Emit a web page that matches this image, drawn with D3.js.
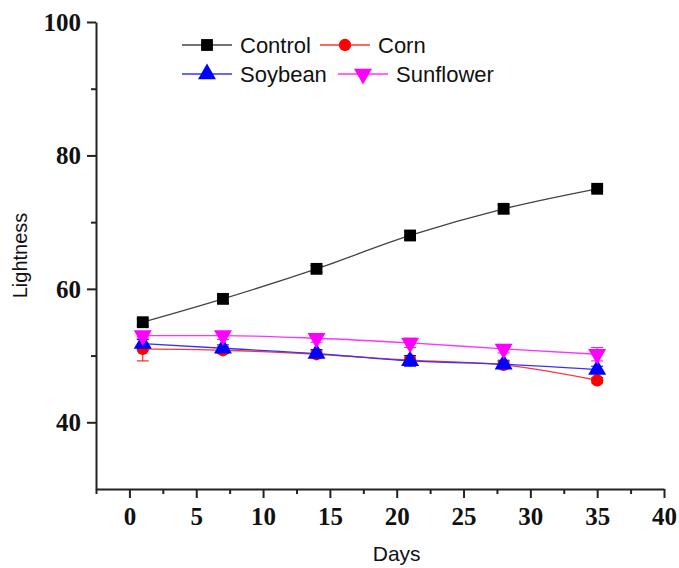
<!DOCTYPE html>
<html>
<head>
<meta charset="utf-8">
<script src="https://cdn.jsdelivr.net/npm/d3@7"></script>
<style>
  body { margin: 0; background: #fff; }
  svg { display: block; }
</style>
</head>
<body>
<div id="chart"></div>
<script>

//************************  data *************************

var days = [1, 7, 14, 21, 28, 35];
var seriesNames = ["Control", "Corn", "Soybean", "Sunflower"];

var control = [55.0, 58.5, 63.0, 68.0, 72.0, 75.0];
var controlErr = [0.5, 0.7, 0.5, 0.6, 0.6, 0.4];
var corn = [51.0, 50.8, 50.2, 49.3, 48.6, 46.3];
var cornErr = [1.8, 0.5, 0.5, 0.5, 0.5, 0.4];
var soybean = [51.8, 51.1, 50.3, 49.2, 48.7, 47.9];
var soybeanErr = [0.6, 0.5, 0.6, 0.8, 0.6, 0.5];
var sunflower = [53.0, 53.0, 52.6, 51.9, 51.0, 50.2];
var sunflowerErr = [0.4, 0.6, 0.6, 0.7, 0.6, 1.0];

var yMajor = [40, 60, 80, 100];
var yMinor = [50, 70, 90];
var xMajor = [0, 5, 10, 15, 20, 25, 30, 35, 40];
var xMinor = [-2.5, 2.5, 7.5, 12.5, 17.5, 22.5, 27.5, 32.5, 37.5];

var colors = ["#000000", "#ff0000", "#0000ff", "#ff00ff"];
var lineColors = ["#444444", "#ff3333", "#3333ff", "#ff33ff"];

//************************  chart *************************

var width = 679, height = 568;

var svg = d3.select("#chart").append("svg")
    .attr("width", width)
    .attr("height", height);

var x = d3.scaleLinear().domain([-2.5, 40]).range([96, 664]);
var y = d3.scaleLinear().domain([30, 100]).range([489, 22]);

// minor ticks
var xAxisMinor = d3.axisBottom(x).tickValues(xMinor).tickSize(5).tickFormat("");
var yAxisMinor = d3.axisLeft(y).tickValues(yMinor).tickSize(5).tickFormat("");

svg.append("g")
    .attr("class", "x-minor")
    .attr("transform", "translate(0," + y(30) + ")")
    .call(xAxisMinor);

svg.append("g")
    .attr("class", "y-minor")
    .attr("transform", "translate(" + x(-2.5) + ",0)")
    .call(yAxisMinor);

// major ticks
var xAxis = d3.axisBottom(x).tickValues(xMajor).tickSize(9).tickPadding(9).tickSizeOuter(0);
var yAxis = d3.axisLeft(y).tickValues(yMajor).tickSize(9).tickPadding(6).tickSizeOuter(0);

svg.append("g")
    .attr("class", "x-axis")
    .attr("transform", "translate(0," + y(30) + ")")
    .call(xAxis);

svg.append("g")
    .attr("class", "y-axis")
    .attr("transform", "translate(" + x(-2.5) + ",0)")
    .call(yAxis);

svg.selectAll(".x-minor .domain, .y-minor .domain").remove();

svg.selectAll(".domain, .tick line")
    .attr("stroke", "#222")
    .attr("stroke-width", 2);

svg.selectAll(".x-axis text, .y-axis text")
    .attr("font-family", "'Liberation Serif', 'Times New Roman', serif")
    .attr("font-weight", "bold")
    .attr("font-size", 25)
    .attr("fill", "#111");

svg.selectAll(".y-axis text").attr("dy", "0.34em");

// axis titles
svg.append("text")
    .attr("x", x(20))
    .attr("y", 561)
    .attr("text-anchor", "middle")
    .attr("font-family", "'Liberation Sans', Arial, sans-serif")
    .attr("font-size", 21)
    .attr("fill", "#111")
    .text("Days");

svg.append("text")
    .attr("transform", "translate(27," + y(65) + ") rotate(-90)")
    .attr("text-anchor", "middle")
    .attr("font-family", "'Liberation Sans', Arial, sans-serif")
    .attr("font-size", 20)
    .attr("fill", "#111")
    .text("Lightness");

// series
var allValues = [control, corn, soybean, sunflower];
var allErrs = [controlErr, cornErr, soybeanErr, sunflowerErr];

var series = seriesNames.map(function(name, i){
    return {
        name: name,
        color: colors[i],
        lineColor: lineColors[i],
        points: days.map(function(d, j){
            return {day: d, value: allValues[i][j], err: allErrs[i][j]};
        })
    };
});

var line = d3.line()
    .x(function(d){ return x(d.day); })
    .y(function(d){ return y(d.value); })
    .curve(d3.curveMonotoneX);

var symbols = [d3.symbolSquare, d3.symbolCircle, d3.symbolTriangle, d3.symbolTriangle];
var symbolSizes = [140, 120, 140, 140];
var symbolRotate = [0, 0, 0, 180];

function symbolPath(i){
    return d3.symbol().type(symbols[i]).size(symbolSizes[i])();
}

series.forEach(function(s, i){
    var g = svg.append("g").attr("class", "series");

    g.append("path")
        .datum(s.points)
        .attr("d", line)
        .attr("fill", "none")
        .attr("stroke", s.lineColor)
        .attr("stroke-width", 1.3);

    // error bars
    var eb = g.selectAll(".err")
        .data(s.points)
        .enter().append("g")
        .attr("class", "err")
        .attr("stroke", s.color)
        .attr("stroke-width", 1);

    eb.append("line")
        .attr("x1", function(d){ return x(d.day); })
        .attr("x2", function(d){ return x(d.day); })
        .attr("y1", function(d){ return y(d.value - d.err); })
        .attr("y2", function(d){ return y(d.value + d.err); });

    eb.append("line")
        .attr("x1", function(d){ return x(d.day) - 6; })
        .attr("x2", function(d){ return x(d.day) + 6; })
        .attr("y1", function(d){ return y(d.value - d.err); })
        .attr("y2", function(d){ return y(d.value - d.err); });

    eb.append("line")
        .attr("x1", function(d){ return x(d.day) - 6; })
        .attr("x2", function(d){ return x(d.day) + 6; })
        .attr("y1", function(d){ return y(d.value + d.err); })
        .attr("y2", function(d){ return y(d.value + d.err); });

    g.selectAll(".marker")
        .data(s.points)
        .enter().append("path")
        .attr("class", "marker")
        .attr("d", symbolPath(i))
        .attr("transform", function(d){
            return "translate(" + x(d.day) + "," + y(d.value) + ") rotate(" + symbolRotate[i] + ")";
        })
        .attr("fill", s.color);
});

//************************  legend *************************

var legendPos = [
    {lx: 182, ty: 45},
    {lx: 320, ty: 45},
    {lx: 182, ty: 74},
    {lx: 338, ty: 74}
];

var legend = svg.selectAll(".legend")
    .data(series)
    .enter().append("g")
    .attr("class", "legend")
    .attr("transform", function(d, i){
        return "translate(" + legendPos[i].lx + "," + legendPos[i].ty + ")";
    });

legend.append("line")
    .attr("x1", 0)
    .attr("x2", 50)
    .attr("y1", 0)
    .attr("y2", 0)
    .attr("stroke", function(d){ return d.lineColor; })
    .attr("stroke-width", 1.3);

legend.append("path")
    .attr("d", function(d, i){ return symbolPath(i); })
    .attr("transform", function(d, i){ return "translate(25,0) rotate(" + symbolRotate[i] + ")"; })
    .attr("fill", function(d){ return d.color; });

legend.append("text")
    .attr("x", 58)
    .attr("y", 0)
    .attr("dy", "0.35em")
    .attr("font-family", "'Liberation Sans', Arial, sans-serif")
    .attr("font-size", 22)
    .attr("fill", "#111")
    .text(function(d){ return d.name; });

</script>
</body>
</html>
